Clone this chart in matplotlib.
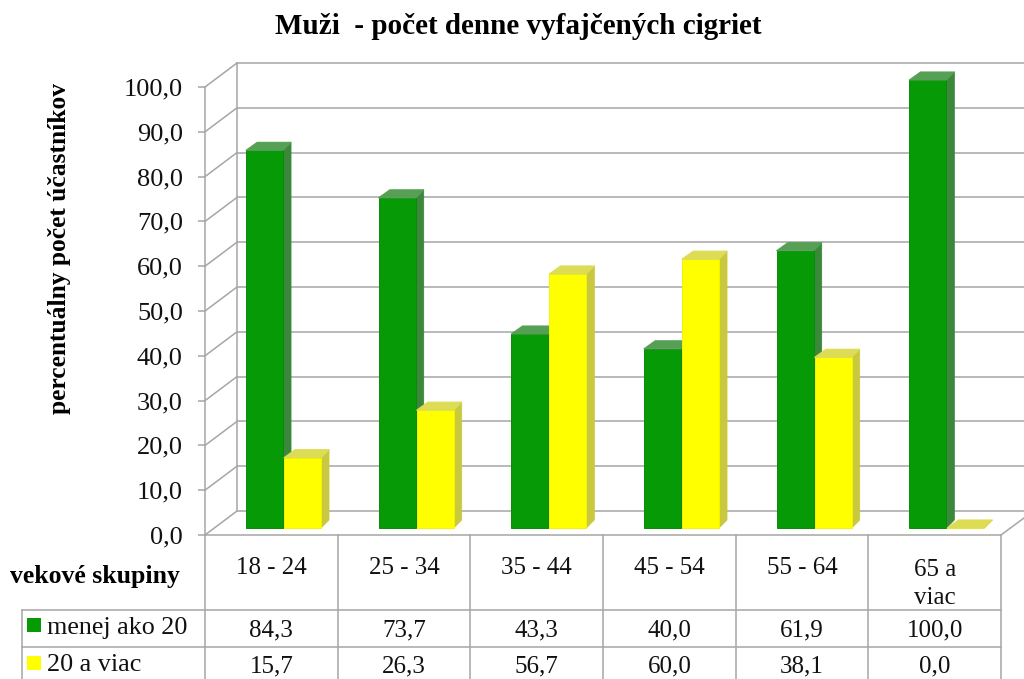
import matplotlib
matplotlib.use("Agg")
import matplotlib.pyplot as plt
from matplotlib.patches import Polygon, Rectangle
import numpy as np

plt.rcParams['font.family'] = ['Liberation Serif', 'DejaVu Serif']

categories = ["18 - 24", "25 - 34", "35 - 44", "45 - 54", "55 - 64", "65 a\nviac"]
under20 = [84.3, 73.7, 43.3, 40.0, 61.9, 100.0]
over20 = [15.7, 26.3, 56.7, 60.0, 38.1, 0.0]
under20_label = "menej ako 20"
over20_label = "20 a viac"
yticks = np.arange(0, 101, 10)


def comma(v):
    return f"{v:.1f}".replace(".", ",")


fig = plt.figure(figsize=(10.24, 6.79), dpi=100)

# overlay in pixels for the table and loose text
pix = fig.add_axes([0, 0, 1, 1])
pix.set_xlim(0, 1024)
pix.set_ylim(679, 0)
pix.axis("off")

# front plane of the 3d box: x is category, y is percent
ax = fig.add_axes([205 / 1024, (679 - 535) / 679, 796 / 1024, 448 / 679])
ax.set_xlim(0, 6)
ax.set_ylim(0, 100)
ax.patch.set_alpha(0)

px_x = 6 / 796
px_y = 100 / 448
grid_col = "#a6a6a6"
wall_dx = 32 * px_x
wall_dy = 24 * px_y

# walls
for v in yticks:
    ax.plot([0, wall_dx], [v, v + wall_dy], color=grid_col, lw=1.1, clip_on=False, zorder=1)
    ax.plot([wall_dx, 819 * px_x], [v + wall_dy, v + wall_dy], color=grid_col, lw=1.1,
            clip_on=False, zorder=1)
ax.plot([wall_dx, wall_dx], [wall_dy, 100 + wall_dy], color=grid_col, lw=1.1, clip_on=False, zorder=1)
ax.plot([6, 6 + 23 * px_x], [0, 17 * px_y], color=grid_col, lw=1.1, clip_on=False, zorder=1)

# bars
bar_w = 37 * px_x
base = 7 * px_y
depth_x = 8 * px_x
depth_y = 8 * px_y
x = np.arange(6)
x_green = x + 41 * px_x
x_yellow = x + 79 * px_x


def draw_bars(xs, vals, front, edge, side, top):
    ax.bar(xs, vals, width=bar_w, bottom=base, align="edge", color=front, edgecolor=edge,
           linewidth=0.7, zorder=3, clip_on=False)
    for x0, v in zip(xs, vals):
        x1 = x0 + bar_w
        t = v + base
        ax.add_patch(Polygon([(x1, base), (x1 + depth_x, base + depth_y),
                              (x1 + depth_x, t + depth_y), (x1, t)],
                             facecolor=side, edgecolor=side, lw=0.6, joinstyle="round",
                             clip_on=False, zorder=2))
        ax.add_patch(Polygon([(x0, t), (x1, t), (x1 + depth_x, t + depth_y),
                              (x0 + 1.4 * depth_x, t + depth_y)],
                             facecolor=top, edgecolor=top, lw=0.8, joinstyle="round",
                             clip_on=False, zorder=3))


draw_bars(x_green, under20, "#079a07", "#0a8a0a", "#3b883b", "#56a056")
draw_bars(x_yellow, over20, "#ffff00", "#f4f400", "#c9c93f", "#dcdc55")

# axis
for s in ["top", "right"]:
    ax.spines[s].set_visible(False)
for s in ["left", "bottom"]:
    ax.spines[s].set_color(grid_col)
    ax.spines[s].set_linewidth(1.1)
ax.set_xticks([])
ax.set_yticks(yticks)
ax.set_yticklabels([comma(v) for v in yticks], fontsize=19)
ax.tick_params(axis="y", length=5, width=1.1, color=grid_col, pad=11, labelcolor="#111111")

# table lines
col_x = [205 + i * 796 / 6 for i in range(7)]
for cx in col_x:
    pix.plot([cx, cx], [535, 679], color=grid_col, lw=1.1)
pix.plot([22, 22], [610, 679], color=grid_col, lw=1.1)
pix.plot([22, 1001], [610, 610], color=grid_col, lw=1.1)
pix.plot([22, 1001], [647, 647], color=grid_col, lw=1.1)

# table text
for i in range(6):
    cx = (col_x[i] + col_x[i + 1]) / 2
    pix.text(cx, 584 if "\n" in categories[i] else 568, categories[i], ha="center", va="center",
             fontsize=18, linespacing=1.3, color="#111111")
    pix.text(cx, 630, comma(under20[i]), ha="center", va="center", fontsize=18, color="#111111")
    pix.text(cx, 666, comma(over20[i]), ha="center", va="center", fontsize=18, color="#111111")

pix.add_patch(Rectangle((27, 618), 14, 14, facecolor="#079a07", edgecolor="none"))
pix.add_patch(Rectangle((27, 656), 14, 14, facecolor="#ffff00", edgecolor="none"))
pix.text(47, 628, under20_label, ha="left", va="center", fontsize=18.8, color="#111111")
pix.text(47, 665, over20_label, ha="left", va="center", fontsize=18.8, color="#111111")

pix.text(10, 577, "vekové skupiny", ha="left", va="center", fontsize=18.5, fontweight="bold")
pix.text(60, 248, "percentuálny počet účastníkov", rotation=90, ha="center", va="center",
         fontsize=18.4, fontweight="bold")
pix.text(518, 26, "Muži  - počet denne vyfajčených cigriet", ha="center", va="center",
         fontsize=21, fontweight="bold")

fig.savefig("out.png", dpi=100)
